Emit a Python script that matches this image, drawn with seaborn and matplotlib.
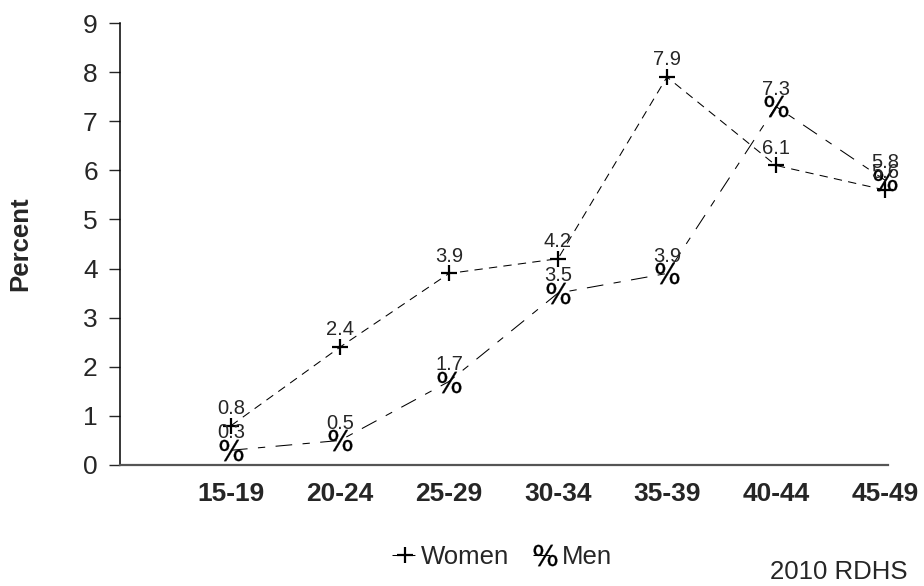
import seaborn as sns
import matplotlib.pyplot as plt

# Chart data (2010 RDHS, percent by age group)
age_groups = ["15-19", "20-24", "25-29", "30-34", "35-39", "40-44", "45-49"]
women = [0.8, 2.4, 3.9, 4.2, 7.9, 6.1, 5.6]
men = [0.3, 0.5, 1.7, 3.5, 3.9, 7.3, 5.8]
series_names = ["Women", "Men"]

sns.set_style("white")
plt.rcParams['font.family'] = ['Liberation Sans', 'DejaVu Sans']

fig = plt.figure(figsize=(9.24, 5.86), dpi=100)
ax = fig.add_axes([120 / 924, 1 - 465 / 586, 768 / 924, 442 / 586])

pos = list(range(len(age_groups)))

# seaborn won't mix filled and line-art markers in one call, so draw each series
sns.lineplot(x=pos, y=women, marker="+", markersize=11, markeredgewidth=1.6,
             markeredgecolor="black", dashes=False, linestyle=(0, (8, 6)),
             color="black", linewidth=0.75, ax=ax, label="Women", clip_on=False)
sns.lineplot(x=pos, y=men, marker="$\\%$", markersize=17, markeredgewidth=0.2,
             markeredgecolor="black", dashes=False, linestyle=(0, (16, 10, 7, 10)),
             color="black", linewidth=0.75, ax=ax, label="Men", clip_on=False)

# value labels above each point
for name, vals in zip(series_names, [women, men]):
    for i, v in enumerate(vals):
        ax.annotate(f"{v:.1f}", (i, v), xytext=(0, 12.5), textcoords="offset points",
                    ha="center", va="center", fontsize=14.5, annotation_clip=False)

ax.set_xlim(-1.018, 6.028)
ax.set_ylim(0, 9)
ax.set_yticks(range(0, 10))
ax.set_xticks(pos)
ax.set_xticklabels(age_groups, fontweight="bold", fontsize=19)
ax.tick_params(axis="x", length=0, pad=12)
ax.tick_params(axis="y", length=8, width=1, labelsize=19, pad=8, left=True, direction="out")
ax.set_xlabel("")
ax.set_ylabel("Percent", fontweight="bold", fontsize=18.5)
ax.yaxis.set_label_coords(-0.114, 0.5)

for side in ["top", "right"]:
    ax.spines[side].set_visible(False)
ax.spines["left"].set_color("black")
ax.spines["left"].set_linewidth(1.1)
ax.spines["bottom"].set_color("#555555")
ax.spines["bottom"].set_linewidth(1.6)

handles, labels = ax.get_legend_handles_labels()
ax.get_legend().remove()
fig.legend(handles, labels, loc="center",
           bbox_to_anchor=(502 / 924, 1 - 557 / 586), ncol=2, frameon=False,
           fontsize=18.5, handlelength=1.0, handletextpad=0.15, columnspacing=0.9)

fig.text(907 / 924, 1 - 572 / 586, "2010 RDHS", ha="right", va="center", fontsize=18.5)

fig.savefig("out.png", dpi=100)
